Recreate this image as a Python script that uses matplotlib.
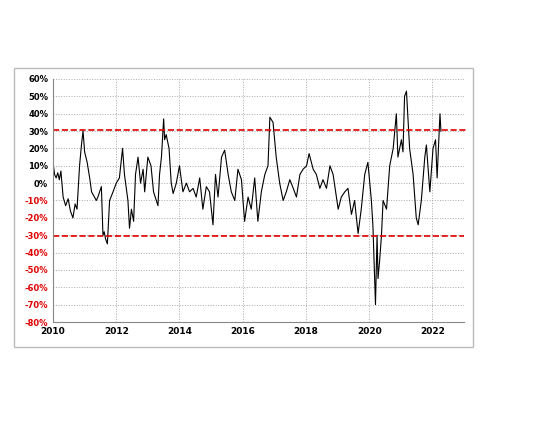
import matplotlib.pyplot as plt
import matplotlib.patches as patches

# valeurs (année, %)
years = [2010.0, 2010.05, 2010.1, 2010.15, 2010.2, 2010.25, 2010.32, 2010.4, 2010.48, 2010.55, 2010.63,
         2010.7, 2010.76, 2010.84, 2010.9, 2010.95, 2011.0, 2011.08, 2011.16, 2011.22, 2011.37, 2011.42,
         2011.53, 2011.58, 2011.62, 2011.66, 2011.72, 2011.79, 2011.9, 2012.0, 2012.1, 2012.2, 2012.26,
         2012.37, 2012.42, 2012.48, 2012.55, 2012.61, 2012.69, 2012.77, 2012.85, 2012.9, 2013.0, 2013.1,
         2013.18, 2013.32, 2013.37, 2013.43, 2013.5, 2013.53, 2013.58, 2013.67, 2013.74, 2013.8, 2013.9,
         2014.0, 2014.11, 2014.22, 2014.32, 2014.43, 2014.53, 2014.64, 2014.74, 2014.85, 2014.95, 2015.06,
         2015.14, 2015.22, 2015.33, 2015.43, 2015.54, 2015.64, 2015.75, 2015.85, 2015.96, 2016.06, 2016.17,
         2016.27, 2016.38, 2016.48, 2016.59, 2016.7, 2016.8, 2016.86, 2016.96, 2017.06, 2017.17, 2017.28,
         2017.38, 2017.49, 2017.6, 2017.7, 2017.81, 2017.91, 2018.02, 2018.1, 2018.23, 2018.33, 2018.44,
         2018.54, 2018.65, 2018.76, 2018.86, 2019.02, 2019.12, 2019.23, 2019.33, 2019.44, 2019.54, 2019.65,
         2019.75, 2019.86, 2019.96, 2020.07, 2020.12, 2020.2, 2020.25, 2020.28, 2020.33, 2020.39, 2020.44,
         2020.55, 2020.65, 2020.76, 2020.86, 2020.91, 2021.02, 2021.07, 2021.12, 2021.18, 2021.28, 2021.39,
         2021.49, 2021.55, 2021.65, 2021.76, 2021.81, 2021.92, 2022.02, 2022.1, 2022.15, 2022.24, 2022.27]
values = [12, 5, 3, 6, 2, 7, -8, -13, -9, -16, -20,
          -12, -15, 10, 22, 30, 18, 12, 3, -5, -10, -8,
          -2, -30, -28, -32, -35, -10, -5, 0, 3, 20, 5,
          -10, -26, -15, -22, 5, 15, 0, 8, -5, 15, 10,
          -5, -13, 5, 15, 37, 25, 28, 20, 0, -6, 0,
          10, -5, 0, -5, -3, -8, 3, -15, -2, -5, -24,
          5, -8, 15, 19, 5, -5, -10, 8, 2, -22, -8,
          -15, 3, -22, -5, 5, 10, 38, 35, 15, 0, -10,
          -5, 2, -3, -8, 5, 8, 10, 17, 8, 5, -3,
          2, -3, 10, 5, -15, -8, -5, -3, -18, -10, -29,
          -15, 5, 12, -10, -25, -70, -30, -55, -45, -30, -10,
          -15, 10, 20, 40, 15, 25, 18, 50, 53, 20, 5,
          -20, -24, -10, 15, 22, -5, 20, 25, 3, 40, 30]

ytick_vals = list(range(60, -90, -10))

fig = plt.figure(figsize=(5.4, 4.32), dpi=100)
ax = fig.add_axes([53 / 540, 1 - 322 / 432, 411 / 540, 243 / 432])

# cadre gris autour de la zone du graphique
fig.patches.append(patches.Rectangle((14 / 540, 1 - 347 / 432), 459 / 540, 279 / 432,
                                     transform=fig.transFigure, fill=False, edgecolor='#bbbbbb', lw=1))

ax.plot(years, values, color='black', lw=0.8)
ax.axhline(30.5, color='#e00000', ls='--', lw=1.2, xmax=1.01, clip_on=False)
ax.axhline(-30.5, color='#e00000', ls='--', lw=1.2)

ax.set_xlim(2010, 2023)
ax.set_ylim(-80, 60)
ax.set_xticks(range(2010, 2023, 2))
ax.set_yticks(ytick_vals)
ax.set_yticklabels([f'{v}%' for v in ytick_vals], fontsize=6, fontweight='bold')
for lab, v in zip(ax.get_yticklabels(), ytick_vals):
    if v < 0:
        lab.set_color('#e00000')
ax.tick_params(axis='x', labelsize=6.5, length=0)
ax.tick_params(axis='y', length=0)
for t in ax.get_xticklabels():
    t.set_fontweight('bold')
ax.grid(True, color='#aaaaaa', ls=':', lw=0.7)
for s in ['top', 'right']:
    ax.spines[s].set_visible(False)
ax.spines['left'].set_color('#888888')
ax.spines['bottom'].set_color('#888888')

fig.savefig('out.png', dpi=100)
